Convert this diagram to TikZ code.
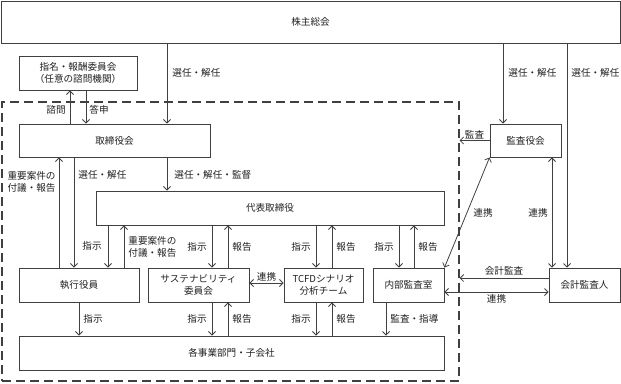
\documentclass[tikz,border=0pt]{standalone}
\usepackage{fontspec}
\setmainfont{Noto Sans CJK JP}
\usetikzlibrary{arrows.meta}
\definecolor{ln}{HTML}{404040}
\definecolor{txt}{HTML}{202020}
\begin{document}
\begin{tikzpicture}[x=1bp,y=-1bp,
  every node/.style={font=\fontsize{9.6bp}{11.5bp}\selectfont, text=txt},
  box/.style={draw=ln, line width=0.9bp, inner sep=0pt, align=center},
  dashbox/.style={draw=ln, line width=1.2bp, dash pattern=on 9bp off 5bp, inner sep=0pt},
  lab/.style={inner sep=1bp, align=left},
  tip/.tip={Straight Barb[length=3.5bp,width=7bp]},
  arr/.style={draw=ln, line width=0.8bp, -tip},
  darr/.style={draw=ln, line width=0.8bp, tip-tip}]
\useasboundingbox (0,0) rectangle (621,383);
% nodes
\node[box, minimum width=619bp, minimum height=42bp] (sh) at (310.5,22) {株主総会};
\node[box, minimum width=118bp, minimum height=34bp] (nom) at (78,73) {指名・報酬委員会\\（任意の諮問機関）};
\node[dashbox, minimum width=457bp, minimum height=279bp] (grp) at (230.5,241.5) {};
\node[box, minimum width=191bp, minimum height=33bp] (bod) at (114.5,140.5) {取締役会};
\node[box, minimum width=71bp, minimum height=33bp] (kan) at (525.5,140.5) {監査役会};
\node[box, minimum width=348bp, minimum height=34bp] (rep) at (270,208) {代表取締役};
\node[box, minimum width=120bp, minimum height=34bp] (exe) at (79,285) {執行役員};
\node[box, minimum width=101bp, minimum height=34bp] (sus) at (198.5,285) {サステナビリティ\\委員会};
\node[box, minimum width=79bp, minimum height=34bp] (tcfd) at (323.5,285) {TCFDシナリオ\\分析チーム};
\node[box, minimum width=71bp, minimum height=34bp] (ia) at (408.5,285) {内部監査室};
\node[box, minimum width=71bp, minimum height=34bp] (aud) at (584.5,285) {会計監査人};
\node[box, minimum width=425bp, minimum height=34bp] (biz) at (231.5,353) {各事業部門・子会社};
% shareholders
\draw[arr] (167,0 |- sh.south) -- node[lab, anchor=west, pos=0.37, xshift=4bp] {選任・解任} (167,0 |- bod.north);
\draw[arr] (503,0 |- sh.south) -- node[lab, anchor=west, pos=0.37, xshift=4bp] {選任・解任} (503,0 |- kan.north);
\draw[arr] (567,0 |- sh.south) -- node[lab, anchor=west, pos=0.133, xshift=3bp] {選任・解任} (567,0 |- aud.north);
% nomination committee
\draw[arr] (70,0 |- bod.north) -- node[lab, anchor=east, pos=0.41, xshift=-3bp] {諮問} (70,0 |- nom.south);
\draw[arr] (86,0 |- nom.south) -- node[lab, anchor=west, pos=0.59, xshift=2bp] {答申} (86,0 |- bod.north);
% board
\draw[arr] (167,0 |- bod.south) -- node[lab, anchor=west, pos=0.53, xshift=6bp] {選任・解任・監督} (167,0 |- rep.north);
\draw[arr] (74,0 |- bod.south) -- node[lab, anchor=west, pos=0.16, xshift=3bp] {選任・解任} (74,0 |- exe.north);
\draw[arr] (59,0 |- exe.north) -- node[lab, anchor=east, pos=0.78, xshift=-2bp] {重要案件の\\付議・報告} (59,0 |- bod.south);
% representative director
\draw[arr] (108,0 |- rep.south) -- node[lab, anchor=east, pos=0.49, xshift=-5bp] {指示} (108,0 |- exe.north);
\draw[arr] (124,0 |- exe.north) -- node[lab, anchor=west, pos=0.49, xshift=3bp] {重要案件の\\付議・報告} (124,0 |- rep.south);
\draw[arr] (212,0 |- rep.south) -- node[lab, anchor=east, midway, xshift=-4bp] {指示} (212,0 |- sus.north);
\draw[arr] (228,0 |- sus.north) -- node[lab, anchor=west, midway, xshift=3bp] {報告} (228,0 |- rep.south);
\draw[arr] (316,0 |- rep.south) -- node[lab, anchor=east, midway, xshift=-4bp] {指示} (316,0 |- tcfd.north);
\draw[arr] (332,0 |- tcfd.north) -- node[lab, anchor=west, midway, xshift=3bp] {報告} (332,0 |- rep.south);
\draw[arr] (399,0 |- rep.south) -- node[lab, anchor=east, midway, xshift=-4bp] {指示} (399,0 |- ia.north);
\draw[arr] (414,0 |- ia.north) -- node[lab, anchor=west, midway, xshift=3bp] {報告} (414,0 |- rep.south);
\draw[darr] (sus.east |- 0,283) -- node[lab, anchor=south, midway] {連携} (tcfd.west |- 0,283);
% to business units
\draw[arr] (79,0 |- exe.south) -- node[lab, anchor=west, midway, xshift=3bp] {指示} (79,0 |- biz.north);
\draw[arr] (212,0 |- sus.south) -- node[lab, anchor=east, midway, xshift=-4bp] {指示} (212,0 |- biz.north);
\draw[arr] (228,0 |- biz.north) -- node[lab, anchor=west, midway, xshift=3bp] {報告} (228,0 |- sus.south);
\draw[arr] (316,0 |- tcfd.south) -- node[lab, anchor=east, midway, xshift=-4bp] {指示} (316,0 |- biz.north);
\draw[arr] (332,0 |- biz.north) -- node[lab, anchor=west, midway, xshift=3bp] {報告} (332,0 |- tcfd.south);
\draw[arr] (386,0 |- ia.south) -- node[lab, anchor=west, midway, xshift=3bp] {監査・指導} (386,0 |- biz.north);
% auditors
\draw[arr] (kan.west) -- node[lab, anchor=south, midway] {監査} (grp.east |- kan.west);
\draw[darr] (ia.north east) -- node[lab, anchor=west, midway, xshift=5bp] {連携} (kan.south west);
\draw[darr] (552,0 |- kan.south) -- node[lab, anchor=east, midway, xshift=-3bp] {連携} (552,0 |- aud.north);
\draw[arr] (aud.west |- 0,278) -- node[lab, anchor=south, midway, yshift=1bp] {会計監査} (grp.east |- 0,278);
\draw[darr] (ia.east |- 0,292) -- node[lab, anchor=north, midway, yshift=-1bp] {連携} (aud.west |- 0,292);
\end{tikzpicture}
\end{document}
